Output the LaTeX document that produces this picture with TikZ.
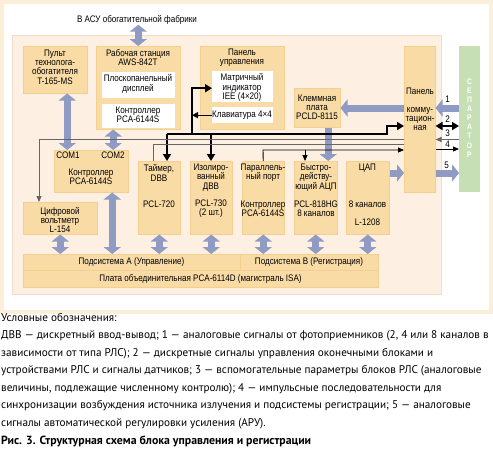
\documentclass[tikz,border=0pt]{standalone}
\usepackage{fontspec}
\setmainfont{Liberation Sans}
\newfontfamily\dfont[FakeStretch=0.85]{Liberation Sans}
\newfontfamily\lfont{PT Sans}
\usetikzlibrary{arrows.meta}
\definecolor{framec}{HTML}{FBEFD9}
\definecolor{panelc}{HTML}{FDF0E2}
\definecolor{paneledge}{HTML}{F3DCCB}
\definecolor{tanc}{HTML}{F9DBA6}
\definecolor{tanedge}{HTML}{F3CF90}
\definecolor{arrc}{HTML}{8F9BC2}
\definecolor{sepc}{HTML}{C6DFB4}
\definecolor{linec}{HTML}{666666}
\tikzset{
  tbox/.style={fill=tanc, draw=tanedge, line width=0.5pt, inner sep=0pt, anchor=north west},
  wbox/.style={fill=white, draw=none, inner sep=0pt, anchor=north west},
  dtxt/.style={font=\dfont\fontsize{9.5}{9.2}\selectfont, align=center, inner sep=0pt},
  ntxt/.style={font=\dfont\fontsize{9.5}{9.2}\selectfont, inner sep=0pt},
  ltxt/.style={font=\lfont\fontsize{11.2}{13}\selectfont, inner sep=0pt, anchor=base west},
  wide/.style={draw=arrc, line width=7pt, -{Triangle[width=17pt,length=7pt]}},
  widedbl/.style={draw=arrc, line width=7pt, {Triangle[width=17pt,length=7pt]}-{Triangle[width=17pt,length=7pt]}},
  thk/.style={line width=2.4pt, -{Triangle[width=8pt,length=7pt]}},
  thkdbl/.style={line width=2.4pt, {Triangle[width=8pt,length=7pt]}-{Triangle[width=8pt,length=7pt]}},
  mdl/.style={line width=1.3pt, -{Triangle[width=6pt,length=6pt]}},
  thn/.style={line width=0.9pt, -{Triangle[width=5pt,length=6pt]}},
  thnp/.style={line width=0.9pt},
}
\begin{document}
\begin{tikzpicture}[x=1pt,y=-1pt]
\useasboundingbox (0,0) rectangle (493,456);
\fill[white] (0,0) rectangle (493,456);
% outer frame
\draw[framec, line width=4pt] (2,2) rectangle (491,312);
% main panel
\node[fill=panelc, draw=paneledge, line width=0.8pt, inner sep=0pt, anchor=north west, minimum width=429pt, minimum height=259pt] (main) at (12,35) {};
\node[dtxt] (asu) at (137,20) {В АСУ обогатительной фабрики};

% top row boxes
\node[tbox, minimum width=64pt, minimum height=47pt] (pult) at (23,46) {};
\node[dtxt] (pultT) at (55,67) {Пульт\\технолога-\\обогатителя\\T-165-MS};
\node[tbox, minimum width=84pt, minimum height=83pt] (ws) at (96,46) {};
\node[dtxt] (wsT) at (138,57.5) {Рабочая станция\\AWS-842T};
\node[wbox, minimum width=73pt, minimum height=26pt] (disp) at (102,72) {};
\node[dtxt] (dispT) at (138,84) {Плоскопанельный\\дисплей};
\node[wbox, minimum width=73pt, minimum height=24pt] (wctrl) at (102,104) {};
\node[dtxt] (wctrlT) at (138,115) {Контроллер\\PCA-6144S};
\node[tbox, minimum width=84pt, minimum height=83pt] (cp) at (200,46) {};
\node[dtxt] (cpT) at (242,57.5) {Панель\\управления};
\node[wbox, minimum width=61pt, minimum height=31pt] (mat) at (212,71) {};
\node[dtxt] (matT) at (242,87.5) {Матричный\\индикатор\\IEE (4×20)};
\node[wbox, minimum width=61pt, minimum height=16pt] (kbd) at (212,107) {};
\node[dtxt] (kbdT) at (242,115.5) {Клавиатура 4×4};
\node[tbox, minimum width=46pt, minimum height=39pt] (klm) at (294,88) {};
\node[dtxt] (klmT) at (317,107.5) {Клеммная\\плата\\PCLD-8115};
\node[tbox, minimum width=31pt, minimum height=146pt] (kom) at (404,46) {};
\node[dtxt] (komT1) at (420,91.5) {Панель};
\node[dtxt] (komT2) at (420,119) {комму-\\тацион-\\ная};
\node[fill=sepc, inner sep=0pt, anchor=north west, minimum width=21pt, minimum height=146pt] (sep) at (459,46) {};
\node[font=\dfont\fontsize{8}{9.1}\selectfont\bfseries, text=white, align=center, inner sep=0pt] (sepT) at (469.5,118) {С\\Е\\П\\А\\Р\\А\\Т\\О\\Р};

% middle row
\node[tbox, minimum width=74pt, minimum height=42pt] (ctrl) at (54,150) {};
\node[ntxt] (com1) at (68,155.5) {COM1};
\node[ntxt] (com2) at (113,155.5) {COM2};
\node[dtxt] (ctrlT) at (91,177) {Контроллер\\PCA-6144S};
\node[tbox, minimum width=74pt, minimum height=32pt] (volt) at (23,202) {};
\node[dtxt] (voltT) at (60,220) {Цифровой\\вольтметр\\L-154};
\node[tbox, minimum width=42pt, minimum height=73pt] (tmr) at (138,161) {};
\node[dtxt] (tmrT1) at (159,173) {Таймер,\\DBB};
\node[dtxt] (tmrT2) at (159,204.5) {PCL-720};
\node[tbox, minimum width=42pt, minimum height=73pt] (iso) at (190,161) {};
\node[dtxt] (isoT1) at (211,177.5) {Изолиро-\\ванный\\ДВВ};
\node[dtxt] (isoT2) at (211,209) {PCL-730\\(2 шт.)};
\node[tbox, minimum width=42pt, minimum height=73pt] (par) at (242,161) {};
\node[dtxt] (parT1) at (263,173) {Параллель-\\ный порт};
\node[dtxt] (parT2) at (263,209) {Контроллер\\PCA-6144S};
\node[tbox, minimum width=43pt, minimum height=73pt] (adc) at (294,161) {};
\node[dtxt] (adcT1) at (316,177.5) {Быстро-\\действу-\\ющий АЦП};
\node[dtxt] (adcT2) at (316,209) {PCL-818HG\\8 каналов};
\node[tbox, minimum width=43pt, minimum height=73pt] (dac) at (346,161) {};
\node[dtxt] (dacT1) at (367.5,168.5) {ЦАП};
\node[dtxt] (dacT2) at (367.5,204.5) {8 каналов};
\node[dtxt] (dacT3) at (367.5,222.5) {L-1208};

% bus
\node[tbox, minimum width=217pt, minimum height=16pt] (subA) at (23,254) {};
\node[dtxt] (subAT) at (131.5,262.5) {Подсистема А (Управление)};
\node[tbox, minimum width=138pt, minimum height=16pt] (subB) at (240,254) {};
\node[dtxt] (subBT) at (309,262.5) {Подсистема B (Регистрация)};
\node[tbox, minimum width=355pt, minimum height=17pt] (plata) at (23,270) {};
\node[dtxt] (plataT) at (200.5,278.5) {Плата объединительная PCA-6114D (магистраль ISA)};

% wide grey arrows
\draw[widedbl] (ws.north |- asu.south) -- (ws.north);
\draw[widedbl] ([xshift=12pt]pult.south) -- ([xshift=12pt]pult.south |- ctrl.north);
\draw[widedbl] ([xshift=-25pt]ws.south) -- ([xshift=-25pt]ws.south |- ctrl.north);
\draw[widedbl] ([xshift=21pt]ctrl.south) -- ([xshift=21pt]ctrl.south |- subA.north);
\draw[widedbl] (volt.south) -- (volt.south |- subA.north);
\draw[widedbl] (tmr.south) -- (tmr.south |- subA.north);
\draw[widedbl] (iso.south) -- (iso.south |- subA.north);
\draw[widedbl] (par.south) -- (par.south |- subB.north);
\draw[widedbl] (adc.south) -- (adc.south |- subB.north);
\draw[widedbl] (dac.south) -- (dac.south |- subB.north);
\draw[wide] ([xshift=11pt]klm.south) -- ([xshift=11pt]klm.south |- adc.north);
\coordinate (r1) at (447,108);
\coordinate (r2) at (447,126);
\coordinate (r3) at (447,139.5);
\coordinate (r4) at (447,149);
\coordinate (r5) at (447,173);
\draw[wide] (kom.west |- r1) -- (klm.east |- r1);
\draw[wide] (sep.west |- r1) -- (kom.east |- r1);
\draw[wide] (kom.east |- r5) -- (sep.west |- r5);
\draw[wide] (dac.east |- r5) -- (kom.west |- r5);
\draw[thkdbl] (kom.east |- r2) -- (sep.west |- r2);
\draw[thn, color=linec] (sep.west |- r3) -- (kom.east |- r3);
\draw[thn] (kom.east |- r4) -- (sep.west |- r4);
\node[ntxt] (n1) at (447.5,99.5) {1};
\node[ntxt] (n2) at (447.5,119) {2};
\node[ntxt] (n3) at (447.5,133.5) {3};
\node[ntxt] (n4) at (447.5,144) {4};
\node[ntxt] (n5) at (446.5,165.5) {5};

% thick black network
\coordinate (jl) at (167,134);
\coordinate (jv) at (192,134);
\coordinate (ji) at (211,134);
\coordinate (js) at (387,134);
\coordinate (js2) at (387,126);
\draw[thk] (jv) |- ([yshift=-1.5pt]mat.west);
\draw[thk] (jl) -- (jl |- tmr.north);
\draw[thk] (ji) -- (ji |- iso.north);
\draw[thk] (jl) -- (js) -- (js2) -- (kom.west |- js2);
\draw[mdl] (kbd.west) -- (jv |- kbd.west);

% thin lines
\coordinate (vA) at (39,139.5);
\coordinate (tB) at (153,144.5);
\coordinate (pC) at (263,150);
\coordinate (aC) at (305,150);
\draw[thn, color=linec] (kom.west |- vA) -- (vA) -- (vA |- volt.north);
\draw[thnp, color=linec] (tB |- tmr.north) -- (tB) -- (kom.west |- tB);
\draw[thn] (par.north) -- (pC) -- (kom.west |- pC);
\draw[thn] (aC) -- (aC |- adc.north);

% legend
\node[ltxt] (l1) at (1,321) {Условные обозначения:};
\node[ltxt] (l2) at (1,338.5) {ДВВ — дискретный ввод-вывод; 1 — аналоговые сигналы от фотоприемников (2, 4 или 8 каналов в};
\node[ltxt] (l3) at (1,356) {зависимости от типа РЛС); 2 — дискретные сигналы управления оконечными блоками и};
\node[ltxt] (l4) at (1,373.5) {устройствами РЛС и сигналы датчиков; 3 — вспомогательные параметры блоков РЛС (аналоговые};
\node[ltxt] (l5) at (1,391) {величины, подлежащие численному контролю); 4 — импульсные последовательности для};
\node[ltxt] (l6) at (1,408.5) {синхронизации возбуждения источника излучения и подсистемы регистрации; 5 — аналоговые};
\node[ltxt] (l7) at (1,426) {сигналы автоматической регулировки усиления (АРУ).};
\node[ltxt, font=\lfont\bfseries\fontsize{11.8}{13}\selectfont] (l8) at (1,444) {Рис. 3. Структурная схема блока управления и регистрации};
\end{tikzpicture}
\end{document}
